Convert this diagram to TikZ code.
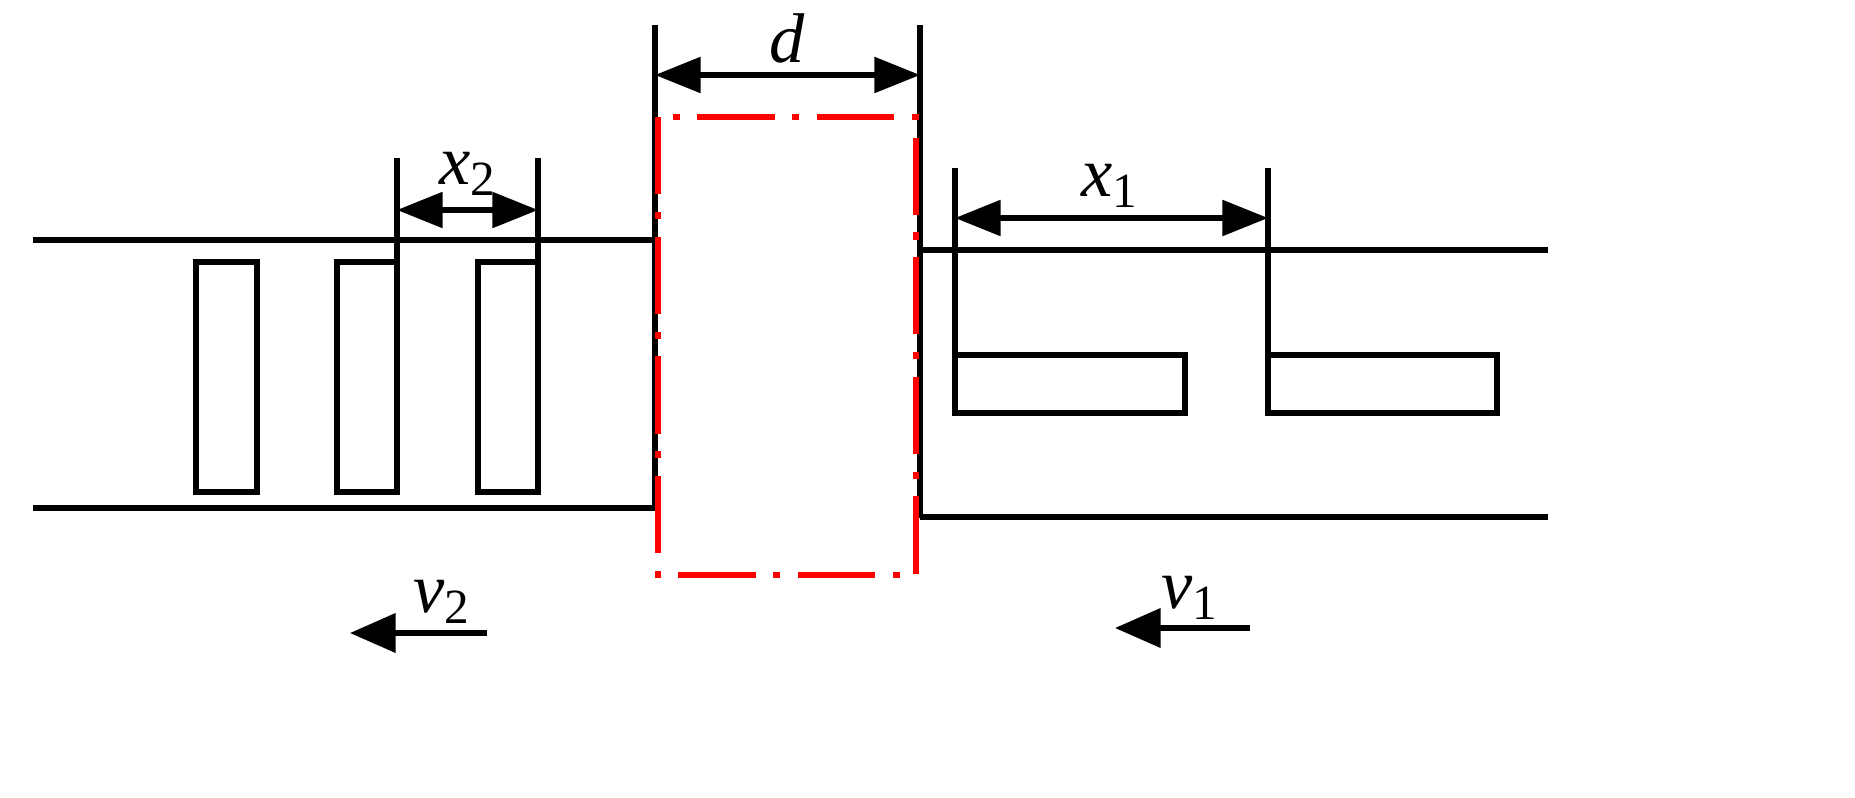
\documentclass[tikz,border=0pt]{standalone}
\usepackage{fontspec}
\setmainfont{Liberation Serif}
\usetikzlibrary{arrows.meta}
\begin{document}
\begin{tikzpicture}[x=0.01cm,y=-0.01cm,
  ln/.style={line width=1.5pt},
  dim/.style={line width=1.5pt,{Triangle[length=13pt,width=10pt]}-{Triangle[length=13pt,width=10pt]}},
  mv/.style={line width=1.5pt,-{Triangle[length=13pt,width=11pt]}},
  lab/.style={font=\fontsize{20}{24}\selectfont\itshape},
  red/.style={draw=red,line width=1.8pt,dash pattern=on 22pt off 5pt on 2pt off 5pt}]
\useasboundingbox (0,0) rectangle (1855,797);
% left conveyor
\draw[ln] (33,240) -- (655,240);
\draw[ln] (33,508) -- (655,508);
\draw[ln] (196,262) rectangle (257,492);
\draw[ln] (337,262) rectangle (397,492);
\draw[ln] (478,262) rectangle (538,492);
\draw[ln] (397,262) -- (397,158);
\draw[ln] (538,262) -- (538,158);
\coordinate (a2) at (397,210); \coordinate (b2) at (538,210);
\draw[dim] (a2) -- (b2);
\node[lab] (x2) at (468,174) {x\textsubscript{\upshape 2}};
% middle
\draw[ln] (655,25) -- (655,508);
\draw[ln] (920,25) -- (920,518);
\coordinate (ad) at (655,75); \coordinate (bd) at (920,75);
\draw[dim] (ad) -- (bd);
\node[lab] (d) at (787,38) {d};
\draw[red] (658,117) rectangle (916,575);
% right conveyor
\draw[ln] (920,250) -- (1548,250);
\draw[ln] (920,517) -- (1548,517);
\draw[ln] (955,168) -- (955,413) -- (1185,413) -- (1185,355) -- (955,355);
\draw[ln] (1268,168) -- (1268,413) -- (1497,413) -- (1497,355) -- (1268,355);
\coordinate (a1) at (955,218); \coordinate (b1) at (1268,218);
\draw[dim] (a1) -- (b1);
\node[lab] (x1) at (1110,186) {x\textsubscript{\upshape 1}};
% velocities
\node[lab] (v2) at (442,602) {v\textsubscript{\upshape 2}};
\coordinate (s2) at (487,633); \coordinate (e2) at (350,633);
\draw[mv] (s2) -- (e2);
\node[lab] (v1) at (1190,598) {v\textsubscript{\upshape 1}};
\coordinate (s1) at (1250,628); \coordinate (e1) at (1115,628);
\draw[mv] (s1) -- (e1);
\end{tikzpicture}
\end{document}
